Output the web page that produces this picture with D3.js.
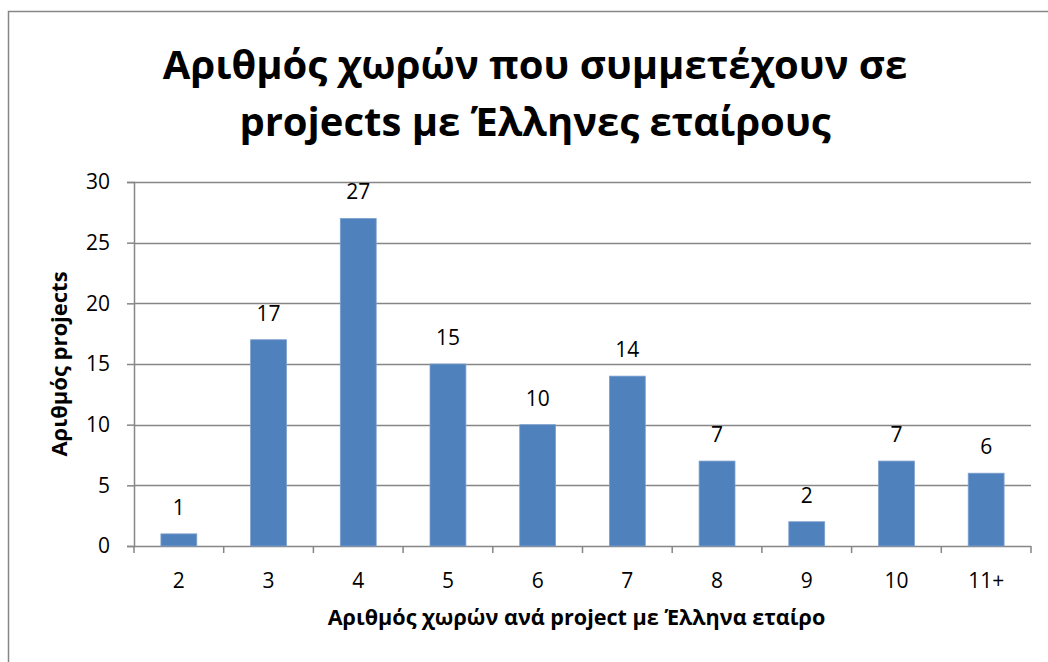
<!DOCTYPE html>
<html>
<head>
<meta charset="utf-8">
<script src="https://cdn.jsdelivr.net/npm/d3@7"></script>
<style>
	body { margin: 0; background: #fff; }
	text { font-family: "Open Sans", "Noto Sans", sans-serif; fill: #000; }
</style>
</head>
<body>
<div id="chart"></div>
<script>
var categories = ['2', '3', '4', '5', '6', '7', '8', '9', '10', '11+'];
var projects = [1, 17, 27, 15, 10, 14, 7, 2, 7, 6];
var yTicks = [0, 5, 10, 15, 20, 25, 30];
var titleLines = ['Αριθμός χωρών που συμμετέχουν σε', 'projects με Έλληνες εταίρους'];
var xTitle = 'Αριθμός χωρών ανά project με Έλληνα εταίρο';
var yTitle = 'Αριθμός projects';

var width = 1048, height = 662;
var margin = {top: 182, right: 17, bottom: 116, left: 134};
var plotW = width - margin.left - margin.right;
var plotH = height - margin.top - margin.bottom;

var svg = d3.select('#chart').append('svg')
	.attr('width', width)
	.attr('height', height);

// outer chart border
svg.append('rect')
	.attr('x', 8.5).attr('y', 11.5)
	.attr('width', 1100).attr('height', 700)
	.attr('fill', 'none')
	.attr('stroke', '#868686')
	.attr('stroke-width', 1.5);

svg.selectAll('.title')
	.data(titleLines).enter()
	.append('text')
	.attr('x', 535)
	.attr('y', function(d, i) { return 79 + i * 57; })
	.attr('text-anchor', 'middle')
	.style('font-size', '40px')
	.style('font-weight', 'bold')
	.text(function(d) { return d; });

var g = svg.append('g')
	.attr('transform', 'translate(' + margin.left + ',' + margin.top + ')');

var x = d3.scaleBand()
	.domain(categories)
	.range([0, plotW])
	.paddingInner(0.6)
	.paddingOuter(0.3);

var y = d3.scaleLinear()
	.domain([0, 30])
	.range([plotH, 0]);

// gridlines
g.selectAll('.grid')
	.data(yTicks.slice(1)).enter()
	.append('line')
	.attr('x1', 0).attr('x2', plotW)
	.attr('y1', function(d) { return Math.round(y(d)) + 0.5; })
	.attr('y2', function(d) { return Math.round(y(d)) + 0.5; })
	.attr('stroke', '#868686')
	.attr('stroke-width', 1.5);

var yAxis = d3.axisLeft(y).tickValues(yTicks).tickSize(7).tickPadding(17);
g.append('g')
	.attr('class', 'axis axis--y')
	.call(yAxis)
	.call(function(a) {
		a.select('.domain').attr('stroke', '#868686').attr('stroke-width', 1.5);
		a.selectAll('.tick line').attr('stroke', '#868686').attr('stroke-width', 1.5);
		a.selectAll('.tick text').style('font-size', '21px').attr('font-family', null);
	});

// x axis: ticks sit on category boundaries
var xAxisG = g.append('g')
	.attr('class', 'axis axis--x')
	.attr('transform', 'translate(0,' + plotH + ')');
xAxisG.append('line')
	.attr('x1', 0).attr('x2', plotW)
	.attr('y1', 0.5).attr('y2', 0.5)
	.attr('stroke', '#868686')
	.attr('stroke-width', 1.5);
xAxisG.selectAll('.xtick')
	.data(d3.range(categories.length + 1)).enter()
	.append('line')
	.attr('x1', function(d) { return d * plotW / categories.length; })
	.attr('x2', function(d) { return d * plotW / categories.length; })
	.attr('y1', 0).attr('y2', 7)
	.attr('stroke', '#868686')
	.attr('stroke-width', 1.5);
xAxisG.selectAll('.xlabel')
	.data(categories).enter()
	.append('text')
	.attr('x', function(d) { return x(d) + x.bandwidth() / 2; })
	.attr('y', 42)
	.attr('text-anchor', 'middle')
	.style('font-size', '21px')
	.text(function(d) { return d; });

g.selectAll('.bar')
	.data(projects).enter()
	.append('rect')
	.attr('x', function(d, i) { return x(categories[i]); })
	.attr('y', function(d) { return y(d); })
	.attr('width', x.bandwidth())
	.attr('height', function(d) { return plotH - y(d); })
	.attr('fill', '#4F81BD')
	.attr('stroke', '#7DA0CF')
	.attr('stroke-width', 0.8);

g.selectAll('.barLabel')
	.data(projects).enter()
	.append('text')
	.attr('x', function(d, i) { return x(categories[i]) + x.bandwidth() / 2; })
	.attr('y', function(d) { return y(d) - 19; })
	.attr('text-anchor', 'middle')
	.style('font-size', '21px')
	.text(function(d) { return d; });

svg.append('text')
	.attr('x', margin.left + plotW / 2 - 6)
	.attr('y', 625)
	.attr('text-anchor', 'middle')
	.style('font-size', '21.6px')
	.style('font-weight', 'bold')
	.text(xTitle);

svg.append('text')
	.attr('transform', 'translate(67,' + (margin.top + plotH / 2) + ') rotate(-90)')
	.attr('text-anchor', 'middle')
	.style('font-size', '22px')
	.style('font-weight', 'bold')
	.text(yTitle);
</script>
</body>
</html>
